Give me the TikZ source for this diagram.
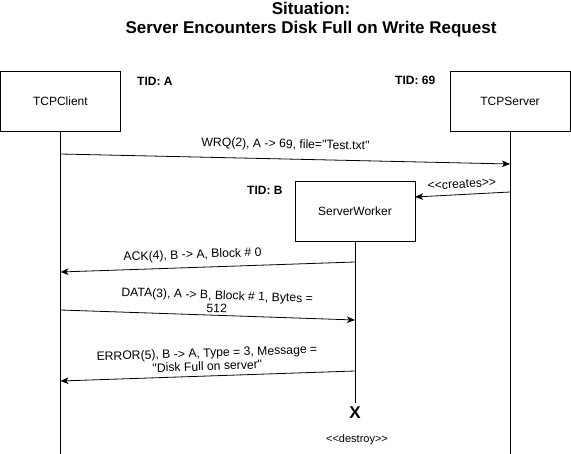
\documentclass[tikz,border=0pt]{standalone}
\usepackage{fontspec}
\newfontfamily\lib{Liberation Sans}
\usetikzlibrary{arrows.meta}
\begin{document}
\begin{tikzpicture}[x=1pt,y=-1pt,
  every node/.style={font=\lib\fontsize{12}{13}\selectfont},
  obj/.style={draw, line width=0.8pt, minimum width=120pt, minimum height=60pt, inner sep=0pt, outer sep=0pt},
  life/.style={line width=0.8pt},
  msg/.style={line width=0.8pt, -{Stealth[length=8pt,width=6.5pt,inset=2pt]}},
  lbl/.style={font=\lib\fontsize{12.2}{13.4}\selectfont, align=center, inner sep=1pt, sloped},
  tid/.style={font=\lib\bfseries\fontsize{12}{13}\selectfont, inner sep=0pt},
  ttl/.style={font=\lib\bfseries\fontsize{17}{18.5}\selectfont, align=center, inner sep=0pt}]
\useasboundingbox (0,0) rectangle (571,454);
% title
\node[ttl] (title) at (311,19.5) {Situation:\\Server Encounters Disk Full on Write Request};
% objects
\node[obj] (client) at (60.4,101) {TCPClient};
\node[obj] (server) at (510,101) {TCPServer};
\node[obj] (worker) at (355,211) {ServerWorker};
\node[tid, anchor=west] (tidA) at (137,81) {TID: A};
\node[tid, anchor=west] (tid69) at (395,80) {TID: 69};
\node[tid, anchor=west] (tidB) at (247,190) {TID: B};
% lifeline ends
\coordinate (cEnd) at (60.4,454);
\coordinate (sEnd) at (510,454);
\coordinate (wEnd) at (355,403);
\draw[life] (client.south) -- (cEnd);
\draw[life] (server.south) -- (sEnd);
\draw[life] (worker.south) -- (wEnd);
% message end points
\coordinate (wrqS) at (60.4,154);
\coordinate (wrqE) at (510,164);
\coordinate (crS) at (510,192);
\coordinate (crE) at (415,197);
\coordinate (ackS) at (355,262);
\coordinate (ackE) at (60.4,272);
\coordinate (datS) at (60.4,310);
\coordinate (datE) at (355,320);
\coordinate (errS) at (355,371);
\coordinate (errE) at (60.4,381);
% messages
\draw[msg] (wrqS) -- node[lbl, pos=0.5, above=7pt] {WRQ(2), A -> 69, file="Test.txt"} (wrqE);
\draw[msg] (crS) -- node[lbl, pos=0.5, above=5pt] {<<creates>>} (crE);
\draw[msg] (ackS) -- node[lbl, pos=0.55, above=5pt] {ACK(4), B -> A, Block \# 0} (ackE);
\draw[msg] (datS) -- node[lbl, pos=0.53, above=1pt] {DATA(3), A -> B, Block \# 1, Bytes =\\512} (datE);
\draw[msg] (errS) -- node[lbl, pos=0.5, above=4pt] {ERROR(5), B -> A, Type = 3, Message =\\"Disk Full on server"} (errE);
% destroy
\node[font=\lib\bfseries\fontsize{17}{18}\selectfont, inner sep=0pt] (xmark) at (355,413) {X};
\node[font=\lib\fontsize{11}{12}\selectfont] (destroy) at (357,440) {<<destroy>>};
\end{tikzpicture}
\end{document}
